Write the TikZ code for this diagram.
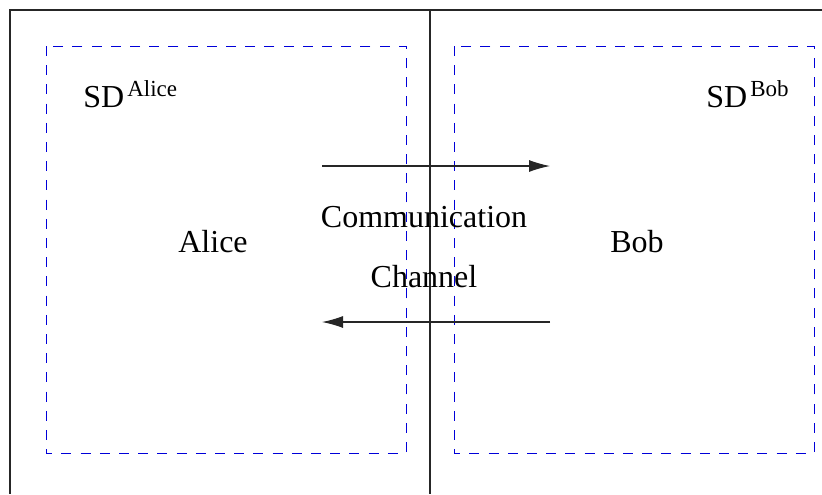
\documentclass[tikz,border=0pt]{standalone}
\usepackage{fontspec}
\setmainfont{Liberation Serif}
\usetikzlibrary{arrows.meta}
\newcommand{\sdsup}[1]{\hspace{1.5pt}\raisebox{5.5pt}{\fontsize{11.5}{13}\selectfont #1}}
\begin{document}
\begin{tikzpicture}[x=0.5pt,y=-0.5pt,
  frame/.style={draw=black!85,line width=0.55pt},
  sdbox/.style={draw=blue!85!black,line width=0.5pt,dash pattern=on 5pt off 4.6pt},
  lbl/.style={inner sep=0pt,anchor=base,font=\fontsize{16}{19}\selectfont},
  flow/.style={draw=black!85,line width=0.55pt,-{Latex[length=10.5pt,width=6pt]}}]
\useasboundingbox (0,0) rectangle (822,494);
% frame
\draw[frame] (822,10) -- (10,10) -- (10,494);
\draw[frame] (430,10) -- (430,494);
% security domains
\draw[sdbox] (46,46) rectangle (406,453);
\draw[sdbox] (454,46) rectangle (814,453);
% labels
\node[lbl,anchor=base west] (sdA) at (83,107) {SD\sdsup{Alice}};
\node[lbl,anchor=base east] (sdB) at (789,107) {SD\sdsup{Bob}};
\node[lbl] (alice) at (213,252) {Alice};
\node[lbl] (bob) at (637,252) {Bob};
\node[lbl] (comm) at (424,227) {Communication};
\node[lbl] (chan) at (424,287) {Channel};
% channel arrows
\coordinate (a1) at (322,166);
\coordinate (b1) at (550,166);
\coordinate (a2) at (550,322);
\coordinate (b2) at (322,322);
\draw[flow] (a1) -- (b1);
\draw[flow] (a2) -- (b2);
\end{tikzpicture}
\end{document}
